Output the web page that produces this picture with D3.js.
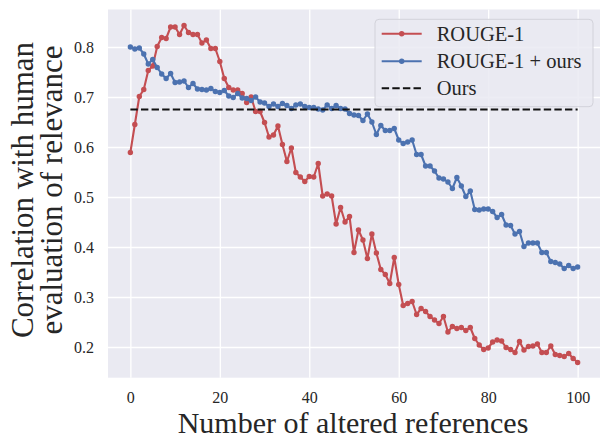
<!DOCTYPE html>
<html>
<head>
<meta charset="utf-8">
<script src="https://cdn.jsdelivr.net/npm/d3@7/dist/d3.min.js"></script>
<style>
	html, body { margin: 0; padding: 0; background: #ffffff; }
	text { font-family: "Liberation Serif", "Times New Roman", serif; fill: #262626; }
</style>
</head>
<body>
<svg id="chart" width="612" height="448"></svg>
<script>
// y values, one per number of altered references (0..100)
var rougeScores = [
	0.589, 0.645, 0.701, 0.715, 0.753, 0.762, 0.801, 0.819, 0.817, 0.840,
	0.840, 0.825, 0.843, 0.829, 0.825, 0.825, 0.808, 0.814, 0.797, 0.797,
	0.771, 0.737, 0.719, 0.714, 0.714, 0.707, 0.689, 0.700, 0.671, 0.671,
	0.649, 0.620, 0.624, 0.642, 0.605, 0.571, 0.598, 0.549, 0.540, 0.531,
	0.541, 0.540, 0.567, 0.502, 0.506, 0.502, 0.446, 0.479, 0.450, 0.461,
	0.389, 0.434, 0.414, 0.377, 0.426, 0.388, 0.355, 0.345, 0.327, 0.379,
	0.325, 0.283, 0.287, 0.291, 0.265, 0.277, 0.271, 0.261, 0.254, 0.247,
	0.261, 0.230, 0.241, 0.237, 0.239, 0.233, 0.239, 0.217, 0.204, 0.195,
	0.198, 0.210, 0.214, 0.212, 0.199, 0.195, 0.189, 0.211, 0.194, 0.201,
	0.202, 0.206, 0.189, 0.189, 0.202, 0.185, 0.183, 0.181, 0.187, 0.177,
	0.169
];
var rougeOursScores = [
	0.800, 0.796, 0.798, 0.786, 0.766, 0.775, 0.759, 0.746, 0.737, 0.747,
	0.729, 0.730, 0.732, 0.719, 0.727, 0.716, 0.715, 0.714, 0.717, 0.711,
	0.709, 0.713, 0.702, 0.699, 0.707, 0.698, 0.697, 0.693, 0.700, 0.690,
	0.688, 0.681, 0.686, 0.681, 0.687, 0.683, 0.677, 0.684, 0.686, 0.681,
	0.679, 0.679, 0.676, 0.674, 0.684, 0.677, 0.683, 0.677, 0.676, 0.667,
	0.664, 0.663, 0.653, 0.666, 0.650, 0.625, 0.643, 0.633, 0.633, 0.637,
	0.614, 0.607, 0.610, 0.614, 0.585, 0.585, 0.562, 0.562, 0.552, 0.538,
	0.536, 0.530, 0.517, 0.539, 0.522, 0.501, 0.512, 0.475, 0.474, 0.476,
	0.476, 0.471, 0.459, 0.465, 0.444, 0.443, 0.426, 0.431, 0.401, 0.408,
	0.408, 0.408, 0.389, 0.389, 0.371, 0.369, 0.366, 0.357, 0.363, 0.357,
	0.360
];
var oursScore = 0.675;
var oursRange = [0, 100];
var seriesNames = ['ROUGE-1', 'ROUGE-1 + ours', 'Ours'];
var xTicks = [0, 20, 40, 60, 80, 100];
var yTicks = [0.2, 0.3, 0.4, 0.5, 0.6, 0.7, 0.8];

var colors = { red: '#C44E52', blue: '#4C72B0', ours: '#111111' };

var plot = { left: 108, right: 600, top: 9.5, bottom: 377.7 };

var svg = d3.select('#chart');

var x = d3.scaleLinear().domain([-5, 105]).range([plot.left, plot.right]);
var y = d3.scaleLinear().domain([0.1386, 0.875]).range([plot.bottom, plot.top]);

// background + grid (seaborn darkgrid)
svg.append('rect')
	.attr('x', plot.left).attr('y', plot.top)
	.attr('width', plot.right - plot.left)
	.attr('height', plot.bottom - plot.top)
	.attr('fill', '#EAEAF2');

var xAxis = d3.axisBottom(x).tickValues(xTicks).tickSize(-(plot.bottom - plot.top)).tickPadding(14).tickFormat(d3.format('d'));
var yAxis = d3.axisLeft(y).tickValues(yTicks).tickSize(-(plot.right - plot.left)).tickPadding(14).tickFormat(d3.format('.1f'));

var xAxisGroup = svg.append('g')
	.attr('transform', 'translate(0,' + plot.bottom + ')')
	.call(xAxis);
var yAxisGroup = svg.append('g')
	.attr('transform', 'translate(' + plot.left + ',0)')
	.call(yAxis);

[xAxisGroup, yAxisGroup].forEach(function (g) {
	g.select('.domain').remove();
	g.selectAll('.tick line').attr('stroke', '#ffffff').attr('stroke-width', 1.3);
	g.selectAll('.tick text')
		.attr('font-family', '"Liberation Serif", serif')
		.attr('font-size', 16)
		.attr('fill', '#262626');
});
yAxisGroup.selectAll('.tick text').attr('dy', '0.33em');

var clip = svg.append('clipPath').attr('id', 'plotClip')
	.append('rect')
	.attr('x', plot.left).attr('y', plot.top)
	.attr('width', plot.right - plot.left)
	.attr('height', plot.bottom - plot.top);

var marks = svg.append('g').attr('clip-path', 'url(#plotClip)');

var line = d3.line()
	.x(function (d, i) { return x(i); })
	.y(function (d) { return y(d); });

function drawSeries(values, color) {
	var g = marks.append('g');
	g.append('path')
		.datum(values)
		.attr('fill', 'none')
		.attr('stroke', color)
		.attr('stroke-width', 2.1)
		.attr('stroke-linejoin', 'round')
		.attr('d', line);
	g.selectAll('circle')
		.data(values)
		.enter().append('circle')
		.attr('cx', function (d, i) { return x(i); })
		.attr('cy', function (d) { return y(d); })
		.attr('r', 2.7)
		.attr('fill', color);
}

drawSeries(rougeScores, colors.red);
drawSeries(rougeOursScores, colors.blue);

marks.append('line')
	.attr('x1', x(oursRange[0])).attr('x2', x(oursRange[1]))
	.attr('y1', y(oursScore)).attr('y2', y(oursScore))
	.attr('stroke', colors.ours)
	.attr('stroke-width', 2)
	.attr('stroke-dasharray', '7.4,3.2');

// axis titles
svg.append('text')
	.attr('x', 353).attr('y', 433)
	.attr('text-anchor', 'middle')
	.attr('font-size', 30)
	.text('Number of altered references');

var yTitle = svg.append('text')
	.attr('transform', 'translate(0,190) rotate(-90)')
	.attr('text-anchor', 'middle')
	.attr('font-size', 31);
yTitle.append('tspan').attr('x', 0).attr('y', 33).text('Correlation with human');
yTitle.append('tspan').attr('x', 0).attr('y', 61.5).text('evaluation of relevance');

// legend
var legend = svg.append('g');
legend.append('rect')
	.attr('x', 375).attr('y', 19.3)
	.attr('width', 218).attr('height', 87.4)
	.attr('rx', 4).attr('ry', 4)
	.attr('fill', '#EAEAF2').attr('fill-opacity', 0.85)
	.attr('stroke', '#d2d2da').attr('stroke-width', 1);

var legendRows = [
	{ name: seriesNames[0], color: colors.red, dashed: false, base: 40.7 },
	{ name: seriesNames[1], color: colors.blue, dashed: false, base: 68.3 },
	{ name: seriesNames[2], color: colors.ours, dashed: true, base: 95.2 }
];

legendRows.forEach(function (row) {
	var cy = row.base - 7;
	var l = legend.append('line')
		.attr('x1', 381.7).attr('x2', 421.7)
		.attr('y1', cy).attr('y2', cy)
		.attr('stroke', row.color)
		.attr('stroke-width', row.dashed ? 2 : 2.1);
	if (row.dashed) {
		l.attr('stroke-dasharray', '7.4,3.2');
	} else {
		legend.append('circle')
			.attr('cx', 401.7).attr('cy', cy)
			.attr('r', 2.7).attr('fill', row.color);
	}
	legend.append('text')
		.attr('x', 436.7).attr('y', row.base)
		.attr('font-size', 20.5)
		.text(row.name);
});
</script>
</body>
</html>
